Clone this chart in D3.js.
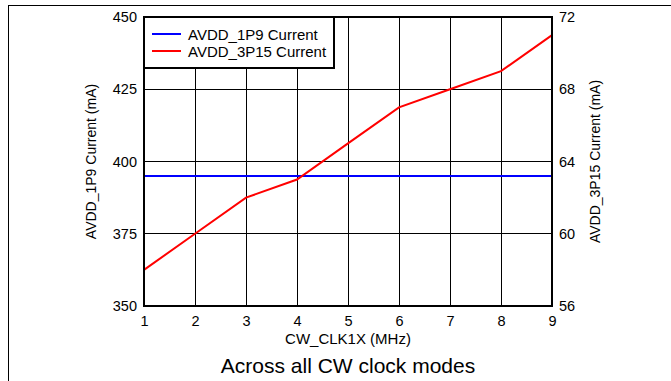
<!DOCTYPE html>
<html>
<head>
<meta charset="utf-8">
<script src="https://cdn.jsdelivr.net/npm/d3@7"></script>
<style>
  html, body { margin: 0; padding: 0; background: #fff; }
  svg { display: block; }
  text { font-family: "Liberation Sans", Arial, Helvetica, sans-serif; fill: #000; }
</style>
</head>
<body>
<svg id="chart" width="671" height="381"></svg>
<script>
// ---- Data ----
const xValues = [1, 2, 3, 4, 5, 6, 7, 8, 9];
const avdd1p9 = [395, 395, 395, 395, 395, 395, 395, 395, 395];   // left axis (mA)
const avdd3p15 = [58, 60, 62, 63, 65, 67, 68, 69, 71];            // right axis (mA)
const xTicks = [1, 2, 3, 4, 5, 6, 7, 8, 9];
const leftTicks = [350, 375, 400, 425, 450];
const rightTicks = [56, 60, 64, 68, 72];
const seriesNames = ["AVDD_1P9 Current", "AVDD_3P15 Current"];
const seriesColors = ["#0000ff", "#ff0000"];
const xTitle = "CW_CLK1X (MHz)";
const leftTitle = "AVDD_1P9 Current (mA)";
const rightTitle = "AVDD_3P15 Current (mA)";
const chartTitle = "Across all CW clock modes";

// ---- Layout ----
const svg = d3.select("#chart");
const L = 144, R = 552, T = 17, B = 306;

const x = d3.scaleLinear().domain([1, 9]).range([L, R]);
const yL = d3.scaleLinear().domain([350, 450]).range([B, T]);
const yR = d3.scaleLinear().domain([56, 72]).range([B, T]);
const crisp = v => Math.floor(v) + 0.5;

// outer frame
svg.append("line").attr("x1", 8).attr("x2", 671).attr("y1", 5.5).attr("y2", 5.5)
  .attr("stroke", "#000").attr("stroke-width", 1);
svg.append("line").attr("x1", 8.5).attr("x2", 8.5).attr("y1", 5).attr("y2", 381)
  .attr("stroke", "#000").attr("stroke-width", 1);

// grid
const grid = svg.append("g");
grid.selectAll("line.v").data(xTicks).enter().append("line")
  .attr("x1", d => crisp(x(d))).attr("x2", d => crisp(x(d))).attr("y1", T).attr("y2", B)
  .attr("stroke", "#000").attr("stroke-width", 1);
grid.selectAll("line.h").data(leftTicks).enter().append("line")
  .attr("x1", L).attr("x2", R).attr("y1", d => crisp(yL(d))).attr("y2", d => crisp(yL(d)))
  .attr("stroke", "#000").attr("stroke-width", 1);

// series
const line1 = d3.line().x((d, i) => x(xValues[i])).y(d => yL(d));
const line2 = d3.line().x((d, i) => x(xValues[i])).y(d => yR(d));
svg.append("path").datum(avdd1p9).attr("d", line1)
  .attr("fill", "none").attr("stroke", seriesColors[0]).attr("stroke-width", 2);
svg.append("path").datum(avdd3p15).attr("d", line2)
  .attr("fill", "none").attr("stroke", seriesColors[1]).attr("stroke-width", 2);

// axes via d3 (labels only), border drawn as rect
const fs = 14.5;
const axL = svg.append("g").attr("transform", `translate(${L},0)`)
  .call(d3.axisLeft(yL).tickValues(leftTicks).tickSize(0).tickPadding(7));
const axR = svg.append("g").attr("transform", `translate(${R},0)`)
  .call(d3.axisRight(yR).tickValues(rightTicks).tickSize(0).tickPadding(7));
const axB = svg.append("g").attr("transform", `translate(0,${B})`)
  .call(d3.axisBottom(x).tickValues(xTicks).tickSize(0).tickPadding(10).tickFormat(d3.format("d")));
[axL, axR, axB].forEach(g => {
  g.select(".domain").remove();
  g.selectAll("text").attr("font-size", fs)
    .attr("font-family", "'Liberation Sans', Arial, sans-serif").attr("fill", "#000");
});

// plot border
svg.append("rect").attr("x", L).attr("y", T).attr("width", R - L).attr("height", B - T)
  .attr("fill", "none").attr("stroke", "#000").attr("stroke-width", 2);

// legend
const lg = svg.append("g");
lg.append("rect").attr("x", L).attr("y", T).attr("width", 190).attr("height", 51)
  .attr("fill", "#fff").attr("stroke", "#000").attr("stroke-width", 2);
seriesNames.forEach((name, i) => {
  const yy = 34 + i * 17;
  lg.append("line").attr("x1", 152).attr("x2", 181).attr("y1", yy).attr("y2", yy)
    .attr("stroke", seriesColors[i]).attr("stroke-width", 2);
  lg.append("text").attr("x", 188).attr("y", yy + 5.5).attr("font-size", 15).text(name);
});

// titles
svg.append("text").attr("x", (L + R) / 2).attr("y", 344).attr("text-anchor", "middle")
  .attr("font-size", 15).text(xTitle);
svg.append("text").attr("transform", `translate(96,${(T + B) / 2}) rotate(-90)`)
  .attr("text-anchor", "middle").attr("font-size", 14).text(leftTitle);
svg.append("text").attr("transform", `translate(600,${(T + B) / 2}) rotate(-90)`)
  .attr("text-anchor", "middle").attr("font-size", 14).text(rightTitle);
svg.append("text").attr("x", (L + R) / 2).attr("y", 372.5).attr("text-anchor", "middle")
  .attr("font-size", 21).text(chartTitle);
</script>
</body>
</html>
